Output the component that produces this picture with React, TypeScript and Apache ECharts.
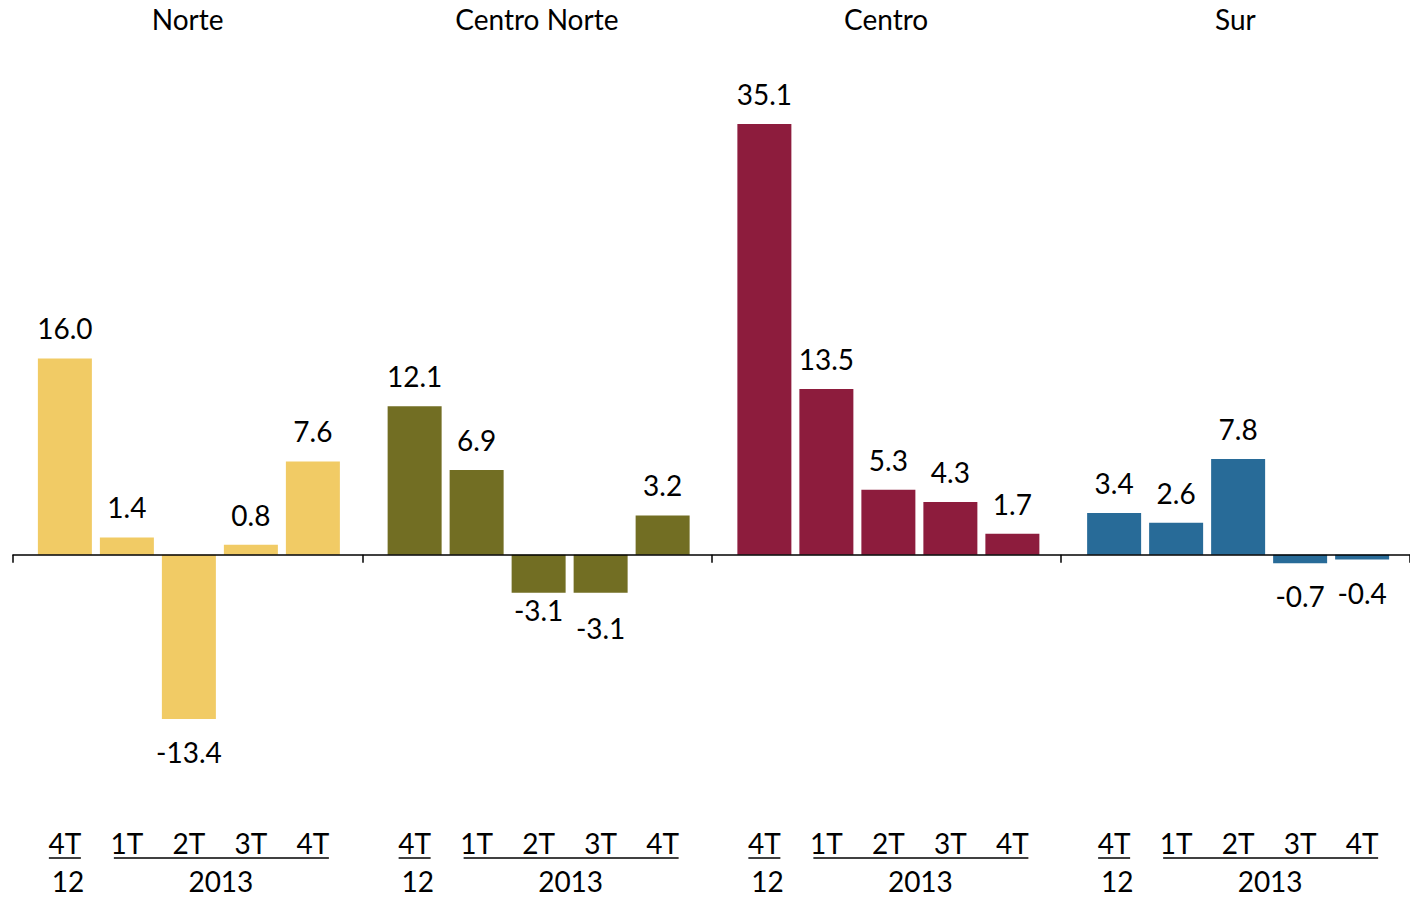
import React, { useEffect, useRef } from "react";
import * as echarts from "echarts";

const regions = ["Norte", "Centro Norte", "Centro", "Sur"];
const quarters = ["4T", "1T", "2T", "3T", "4T"];
const yearLabels = ["12", "2013"];
const norte = [16.0, 1.4, -13.4, 0.8, 7.6];
const centroNorte = [12.1, 6.9, -3.1, -3.1, 3.2];
const centro = [35.1, 13.5, 5.3, 4.3, 1.7];
const sur = [3.4, 2.6, 7.8, -0.7, -0.4];
const seriesValues = [norte, centroNorte, centro, sur];
const colors = ["#F1CB65", "#726E23", "#8D1C3D", "#286B98"];

const Y_MIN = -20;
const Y_MAX = 40;

// layout
const W = 1410;
const H = 897;
const FONT = "Lato";
const FS = 28;
const PLOT_LEFT = 13;
const PLOT_RIGHT_X = 1412;
const TOP = 64;
const BOTTOM_Y = 800;
const BAR_STEP = 62;
const BAR_W = 54;
const UNDERLINE_Y = 858;
const YEAR_Y = 881;
const POS_DIST = 16;
const NEG_DIST = 19;
const labelDistanceOverride: Record<string, number> = { "1-2": 3, "1-3": 21 };

export default function App() {
  const ref = useRef<HTMLDivElement>(null);
  useEffect(() => {
    if (!ref.current) return;
    const chart = echarts.init(ref.current, null, { renderer: "svg", width: W, height: H });
    const groupW = (PLOT_RIGHT_X - PLOT_LEFT) / regions.length;
    const innerW = BAR_STEP * quarters.length;
    const grids: any[] = [
      { left: PLOT_LEFT, width: PLOT_RIGHT_X - PLOT_LEFT, top: TOP, height: BOTTOM_Y - TOP },
    ];
    regions.forEach((_, g) =>
      grids.push({
        left: PLOT_LEFT + g * groupW + (groupW - innerW) / 2 + 1,
        width: innerW,
        top: TOP,
        height: BOTTOM_Y - TOP,
      })
    );
    const textStyle = { fontFamily: FONT, fontSize: FS, color: "#000" };
    const xAxis: any[] = [
      {
        gridIndex: 0,
        type: "category",
        data: regions,
        position: "bottom",
        z: 10,
        axisLine: {
          onZero: true,
          onZeroAxisIndex: 0,
          lineStyle: { color: "#000", width: 1.5 },
        },
        axisTick: { show: true, length: 8, lineStyle: { color: "#000", width: 1.5 } },
        axisLabel: { show: false },
      },
      {
        gridIndex: 0,
        type: "category",
        data: regions,
        position: "top",
        axisLine: { show: false, onZero: false },
        axisTick: { show: false },
        axisLabel: { ...textStyle, margin: 31, interval: 0 },
      },
      ...regions.map((_, g) => ({
        gridIndex: g + 1,
        type: "category",
        data: quarters,
        axisLine: { show: false, onZero: false },
        axisTick: { show: false },
        axisLabel: { ...textStyle, margin: 29, interval: 0 },
      })),
    ];
    const yAxis: any[] = [0, 1, 2, 3, 4].map((gi) => ({
      gridIndex: gi,
      type: "value",
      min: Y_MIN,
      max: Y_MAX,
      axisLine: { show: false },
      axisTick: { show: false },
      axisLabel: { show: false },
      splitLine: { show: false },
    }));
    const series: any[] = seriesValues.map((vals, g) => ({
      type: "bar",
      xAxisIndex: g + 2,
      yAxisIndex: g + 1,
      barWidth: BAR_W,
      itemStyle: { color: colors[g] },
      data: vals.map((v, i) => {
        const key = `${g}-${i}`;
        const dist =
          labelDistanceOverride[key] !== undefined
            ? labelDistanceOverride[key]
            : v < 0
            ? NEG_DIST
            : POS_DIST;
        return {
          value: v,
          label: { position: v < 0 ? "bottom" : "top", distance: dist },
        };
      }),
      label: {
        show: true,
        ...textStyle,
        formatter: (p: any) => Number(p.value).toFixed(1),
      },
    }));
    chart.setOption({
      animation: false,
      backgroundColor: "#fff",
      grid: grids,
      xAxis,
      yAxis,
      series,
    });

    const graphic: any[] = [];
    regions.forEach((_, g) => {
      const xi = g + 2;
      const px = (i: number) => chart.convertToPixel({ xAxisIndex: xi } as any, i) as number;
      const c0 = px(0);
      const c1 = px(1);
      const c4 = px(quarters.length - 1);
      graphic.push({
        type: "line",
        shape: { x1: c0 - 16, y1: UNDERLINE_Y, x2: c0 + 16, y2: UNDERLINE_Y },
        style: { stroke: "#000", lineWidth: 1.5 },
      });
      graphic.push({
        type: "line",
        shape: { x1: c1 - 13, y1: UNDERLINE_Y, x2: c4 + 16, y2: UNDERLINE_Y },
        style: { stroke: "#000", lineWidth: 1.5 },
      });
      graphic.push({
        type: "text",
        x: c0 + 3,
        y: YEAR_Y,
        style: {
          text: yearLabels[0],
          fontFamily: FONT,
          fontSize: FS,
          fill: "#000",
          align: "center",
          verticalAlign: "middle",
        },
      });
      graphic.push({
        type: "text",
        x: (c1 + c4) / 2 + 1,
        y: YEAR_Y,
        style: {
          text: yearLabels[1],
          fontFamily: FONT,
          fontSize: FS,
          fill: "#000",
          align: "center",
          verticalAlign: "middle",
        },
      });
    });
    chart.setOption({ graphic });

    return () => chart.dispose();
  }, []);
  return (
    <div
      ref={ref}
      style={{ position: "fixed", left: 0, top: 0, width: W, height: H, background: "#fff" }}
    />
  );
}
